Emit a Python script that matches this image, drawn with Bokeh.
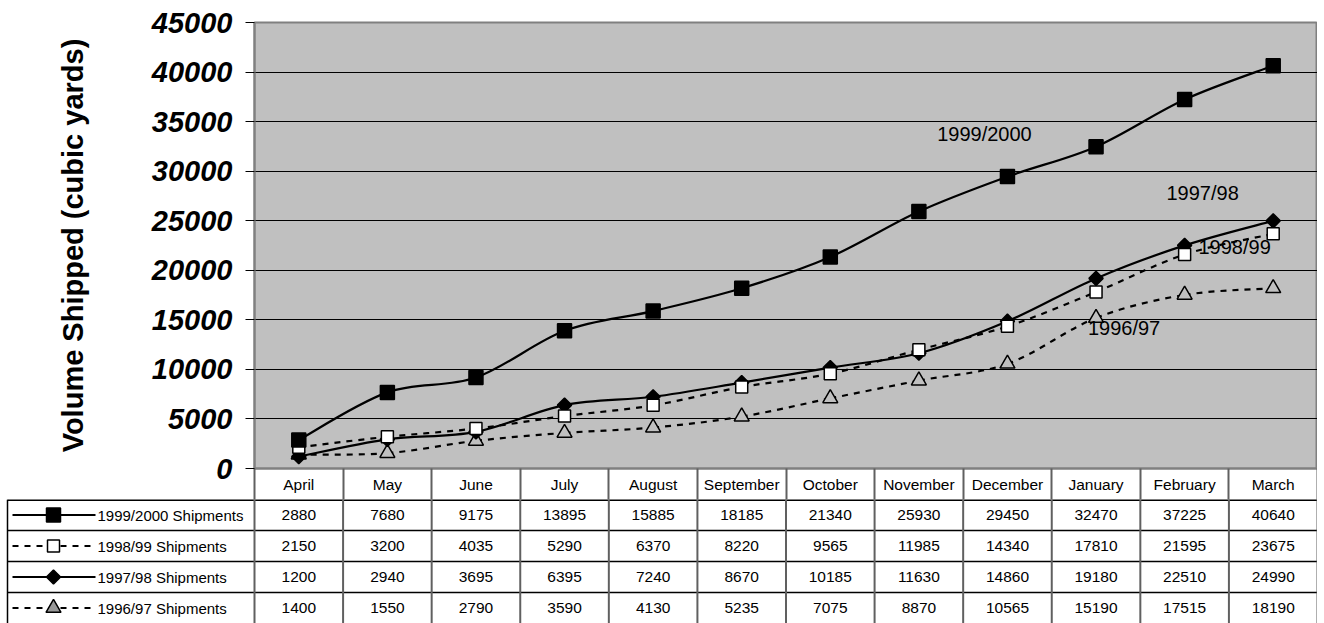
from bokeh.plotting import figure
from bokeh.models import Range1d, FixedTicker, NumeralTickFormatter, ColumnDataSource
from bokeh.core.properties import value
from bokeh.embed import file_html
from bokeh.resources import INLINE
import math

# ---------------- data ----------------
months = ["April", "May", "June", "July", "August", "September", "October",
          "November", "December", "January", "February", "March"]
s1999 = [2880, 7680, 9175, 13895, 15885, 18185, 21340, 25930, 29450, 32470, 37225, 40640]
s1998 = [2150, 3200, 4035, 5290, 6370, 8220, 9565, 11985, 14340, 17810, 21595, 23675]
s1997 = [1200, 2940, 3695, 6395, 7240, 8670, 10185, 11630, 14860, 19180, 22510, 24990]
s1996 = [1400, 1550, 2790, 3590, 4130, 5235, 7075, 8870, 10565, 15190, 17515, 18190]
series_names = ["1999/2000 Shipments", "1998/99 Shipments", "1997/98 Shipments", "1996/97 Shipments"]
short_labels = ["1999/2000", "1998/99", "1997/98", "1996/97"]
y_ticks = [0, 5000, 10000, 15000, 20000, 25000, 30000, 35000, 40000, 45000]
y_title = "Volume Shipped (cubic yards)"

all_series = [s1999, s1998, s1997, s1996]

# ---------------- styles ----------------
FONT = "Liberation Sans"
TFONT = "Liberation Sans"
TSIZE = "15.5px"
BG = "#C0C0C0"
DASH = "6 6"
styles = [
    dict(dash="solid", marker="square", size=14, fill="black", angle=0.0),
    dict(dash=DASH, marker="square", size=12, fill="white", angle=0.0),
    dict(dash="solid", marker="square", size=10, fill="black", angle=math.pi / 4),
    dict(dash=DASH, marker="triangle", size=15, fill=BG, angle=0.0),
]
# label: (series index, month index for anchor, x offset px, y offset px)
label_anchor = [(0, 8, -23, -43), (1, 10, 50, -7), (2, 10, 18, -52), (3, 9, 28, 10)]

n = len(months)
FRAME_W = 1063
COLW = FRAME_W / n
LEFT = 254
TOP = 22
FRAME_H = 446
ROWH = 31

xs = [i + 0.5 for i in range(n)]

# ---------------- chart ----------------
p = figure(frame_width=FRAME_W, frame_height=FRAME_H,
           x_range=Range1d(0, n), y_range=Range1d(0, 45000),
           min_border_left=LEFT, min_border_right=0, min_border_top=TOP, min_border_bottom=ROWH,
           output_backend="svg", toolbar_location=None)
p.background_fill_color = BG
p.border_fill_color = "white"
p.outline_line_color = "#808080"
p.outline_line_width = 2
p.xgrid.visible = False
p.ygrid.grid_line_color = "black"
p.ygrid.grid_line_width = 1
p.ygrid.ticker = FixedTicker(ticks=y_ticks)

# x axis = header row of the data table
xa = p.xaxis[0]
xa.ticker = FixedTicker(ticks=xs, minor_ticks=list(range(n + 1)))
xa.major_label_overrides = {x: m for x, m in zip(xs, months)}
xa.major_tick_out = 0
xa.major_tick_in = 0
xa.major_tick_line_color = None
xa.minor_tick_out = ROWH
xa.minor_tick_in = 0
xa.minor_tick_line_color = "#606060"
xa.minor_tick_line_width = 2
xa.axis_line_color = "#808080"
xa.axis_line_width = 2
xa.major_label_text_font = TFONT
xa.major_label_text_font_size = TSIZE
xa.major_label_text_color = "black"
xa.major_label_standoff = 7 - ROWH

ax = p.yaxis[0]
ax.ticker = FixedTicker(ticks=y_ticks)
ax.formatter = NumeralTickFormatter(format="0")
ax.major_label_text_font = FONT
ax.major_label_text_font_style = "bold italic"
ax.major_label_text_font_size = "29px"
ax.major_label_text_color = "black"
ax.major_label_standoff = 13
ax.major_tick_out = 9
ax.major_tick_in = 0
ax.major_tick_line_color = "black"
ax.minor_tick_line_color = None
ax.axis_line_color = "#808080"
ax.axis_line_width = 2
ax.axis_label = y_title
ax.axis_label_text_font = FONT
ax.axis_label_text_font_style = "bold"
ax.axis_label_text_font_size = "29px"
ax.axis_label_text_color = "black"
ax.axis_label_standoff = 60

for vals, st in zip(reversed(all_series), reversed(styles)):
    x0, y0, x1, y1, cx0, cy0, cx1, cy1 = [], [], [], [], [], [], [], []
    for i in range(n - 1):
        ip = max(i - 1, 0)
        inx = min(i + 2, n - 1)
        x0.append(xs[i]); y0.append(vals[i])
        x1.append(xs[i + 1]); y1.append(vals[i + 1])
        cx0.append(xs[i] + (xs[i + 1] - xs[ip]) / 6.0)
        cy0.append(vals[i] + (vals[i + 1] - vals[ip]) / 6.0)
        cx1.append(xs[i + 1] - (xs[inx] - xs[i]) / 6.0)
        cy1.append(vals[i + 1] - (vals[inx] - vals[i]) / 6.0)
    src = ColumnDataSource(dict(x0=x0, y0=y0, x1=x1, y1=y1, cx0=cx0, cy0=cy0, cx1=cx1, cy1=cy1))
    p.bezier(x0="x0", y0="y0", x1="x1", y1="y1", cx0="cx0", cy0="cy0", cx1="cx1", cy1="cy1",
             source=src, line_color="black", line_width=2.2, line_dash=st["dash"])
    p.scatter(xs, vals, marker=st["marker"], size=st["size"], angle=st["angle"],
              fill_color=st["fill"], line_color="black", line_width=1.5)

for si, mi, dx, dy in label_anchor:
    p.text(x=[xs[mi]], y=[all_series[si][mi]], text=[short_labels[si]],
           x_offset=dx, y_offset=dy, text_font=value(FONT), text_font_size="20px",
           text_color="black", text_align="center", text_baseline="middle")

# ---------------- data table body ----------------
nrows = len(all_series)
TBL_H = nrows * ROWH
L = LEFT / COLW
t = figure(frame_width=LEFT + FRAME_W, frame_height=TBL_H,
           x_range=Range1d(-L, n), y_range=Range1d(nrows, 0),
           min_border_left=0, min_border_right=0, min_border_top=0, min_border_bottom=0,
           x_axis_location=None, y_axis_location=None,
           output_backend="svg", toolbar_location=None)
t.grid.visible = False
t.outline_line_color = None
t.background_fill_color = "white"
t.border_fill_color = "white"

ybot = nrows + 0.1

def px(xpage):
    return (xpage - LEFT) / COLW

# horizontal rules
t.segment(x0=[px(7)] * nrows, y0=list(range(nrows)),
          x1=[n] * nrows, y1=list(range(nrows)),
          line_color="black", line_width=[3] + [1.5] * (nrows - 1))
# vertical rules
t.segment(x0=list(range(n + 1)), y0=[0] * (n + 1), x1=list(range(n + 1)), y1=[ybot] * (n + 1),
          line_color="#606060", line_width=2)
t.segment(x0=[px(7)], y0=[0], x1=[px(7)], y1=[ybot], line_color="black", line_width=1.5)

# values
for r, vals in enumerate(all_series):
    t.text(x=xs, y=[r + 0.5] * n, text=[str(v) for v in vals], text_font=value(TFONT),
           text_font_size=TSIZE, text_color="black", text_align="center", text_baseline="middle")

for r, (name, st) in enumerate(zip(series_names, styles)):
    yy = r + 0.5
    t.segment(x0=[px(12)], y0=[yy], x1=[px(95)], y1=[yy], line_color="black",
              line_width=2.2, line_dash=st["dash"])
    legfill = "#999999" if st["marker"] == "triangle" else st["fill"]
    t.scatter([px(53)], [yy], marker=st["marker"], size=st["size"], angle=st["angle"],
              fill_color=legfill, line_color="black", line_width=1.5)
    t.text(x=[px(97)], y=[yy], text=[name], text_font=value(TFONT), text_font_size="15px",
           text_color="black", text_align="left", text_baseline="middle")

open("out.html", "w").write(file_html([p, t], INLINE))
